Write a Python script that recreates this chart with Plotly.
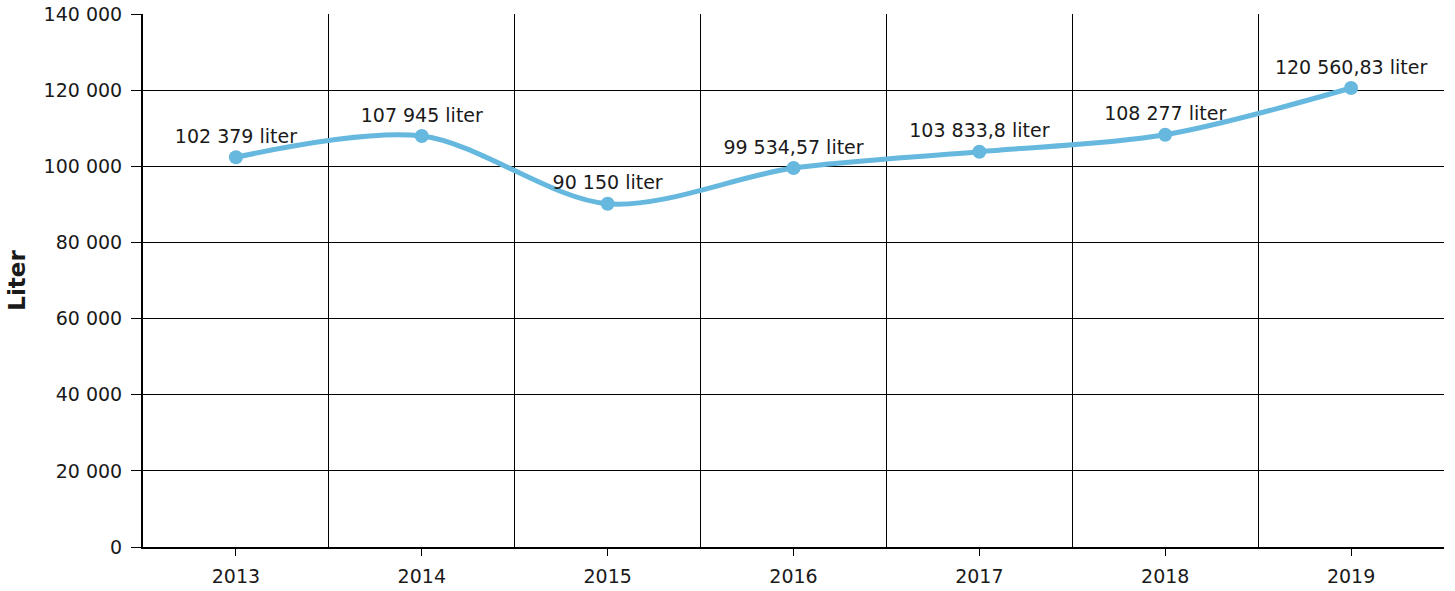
import plotly.graph_objects as go

years = ["2013", "2014", "2015", "2016", "2017", "2018", "2019"]
liters = [102379, 107945, 90150, 99534.57, 103833.8, 108277, 120560.83]

LINE_COLOR = "#66b8de"
FONT = "DejaVu Sans, Verdana, sans-serif"

x_pos = list(range(len(years)))
boundaries = [i + 0.5 for i in range(len(years))]

fig = go.Figure(
    go.Scatter(
        x=x_pos,
        y=liters,
        mode="lines+markers+text",
        line=dict(color=LINE_COLOR, width=5, shape="spline", smoothing=0.9),
        marker=dict(color=LINE_COLOR, size=14),
        texttemplate="%{y:,} liter",
        textposition="top center",
        textfont=dict(size=19, color="#1a1a1a", family=FONT),
        cliponaxis=False,
        hoverinfo="skip",
    )
)

fig.update_layout(
    width=1455,
    height=591,
    margin=dict(l=143, r=11, t=14, b=44),
    paper_bgcolor="white",
    plot_bgcolor="white",
    separators=", ",
    showlegend=False,
    font=dict(family=FONT, size=19, color="#1a1a1a"),
    xaxis=dict(
        range=[-0.5, len(years) - 0.5],
        automargin=False,
        tickmode="array",
        tickvals=x_pos,
        ticktext=years,
        ticks="outside",
        ticklen=7,
        tickcolor="black",
        ticklabelstandoff=4,
        showgrid=False,
        zeroline=False,
        showline=True,
        linecolor="black",
        linewidth=2,
        minor=dict(tickvals=boundaries, showgrid=True, gridcolor="black", gridwidth=1, ticks=""),
    ),
    yaxis=dict(
        range=[0, 140000],
        automargin=False,
        dtick=20000,
        tickformat=",",
        ticks="outside",
        ticklen=10,
        tickcolor="black",
        ticklabelstandoff=5,
        ticklabeloverflow="allow",
        showgrid=True,
        gridcolor="black",
        gridwidth=1,
        zeroline=False,
        showline=True,
        linecolor="black",
        linewidth=2,
        title=dict(text="<b>Liter</b>", standoff=12),
    ),
)

# drop the default 8px body margin so the figure sits flush with the window
fig.write_html(
    "out.html",
    config={"displayModeBar": False},
    post_script="document.body.style.margin = '0';",
)
